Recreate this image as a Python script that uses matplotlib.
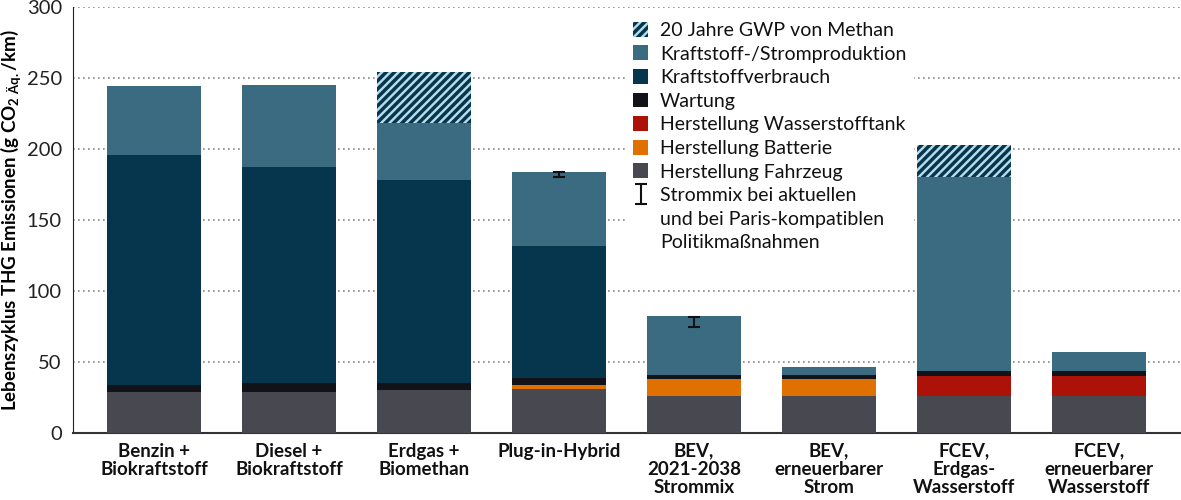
import matplotlib.pyplot as plt
from matplotlib.patches import Patch
from matplotlib.lines import Line2D
import numpy as np

plt.rcParams['font.family'] = ['Lato', 'DejaVu Sans']
plt.rcParams['hatch.linewidth'] = 2.5

# Kategorien
kategorien = ['Benzin +\nBiokraftstoff', 'Diesel +\nBiokraftstoff', 'Erdgas +\nBiomethan',
              'Plug-in-Hybrid', 'BEV,\n2021-2038\nStrommix', 'BEV,\nerneuerbarer\nStrom',
              'FCEV,\nErdgas-\nWasserstoff', 'FCEV,\nerneuerbarer\nWasserstoff']

# Werte (g CO2 Äq./km), von unten nach oben
fahrzeug = [29, 29, 30, 31, 26, 26, 26, 26]
batterie = [0, 0, 0, 3, 12, 12, 0, 0]
tank = [0, 0, 0, 0, 0, 0, 14, 14]
wartung = [4.5, 6, 5, 5, 3, 3, 4, 4]
verbrauch = [162, 152, 143, 93, 0, 0, 0, 0]
produktion = [49, 58, 40, 52, 41.5, 5.5, 136, 13]
methan = [0, 0, 36, 0, 0, 0, 23, 0]

# Fehlerbalken (Strommix)
err_idx = [3, 4]
err_mitte = [182, 78]
err_halb = [2, 3.5]

c_fahrzeug = '#474850'
c_batterie = '#e07000'
c_tank = '#ad1208'
c_wartung = '#111318'
c_verbrauch = '#05364d'
c_produktion = '#3a6b80'
c_methan = '#b8dcea'

fig = plt.figure(figsize=(11.81, 5), dpi=100)
ax = fig.add_axes([73/1181, 1-433/500, 1-73/1181, 426/500])

x = np.arange(len(kategorien))
w = 0.7
unten = np.zeros(len(x))
for werte, farbe in [(fahrzeug, c_fahrzeug), (batterie, c_batterie), (tank, c_tank),
                     (wartung, c_wartung), (verbrauch, c_verbrauch), (produktion, c_produktion)]:
    ax.bar(x, werte, w, bottom=unten, color=farbe, linewidth=0, zorder=3)
    unten += np.array(werte)
ax.bar(x, methan, w, bottom=unten, color=c_methan, edgecolor=c_verbrauch, hatch='////',
       linewidth=0, zorder=3)

eb = ax.errorbar(x[err_idx], err_mitte, yerr=err_halb, fmt='none', ecolor='#111111',
                 elinewidth=1.5, capsize=4, capthick=1.5, zorder=4)

ax.set_xlim(-0.6, 7.607)
ax.set_ylim(0, 300)
ax.set_yticks(range(0, 301, 50))
ax.tick_params(axis='y', length=0, labelsize=14.5, pad=8, colors='#222222')
ax.tick_params(axis='x', length=0, pad=7)
ax.set_xticks(x)
ax.set_xticklabels(kategorien, fontsize=13.5, fontweight='bold', color='#111111', linespacing=1.08)
for yv in range(50, 301, 50):
    ax.axhline(yv, color='#888888', linestyle=(0, (1, 2)), linewidth=1.2, zorder=1)
for s in ['top', 'right']:
    ax.spines[s].set_visible(False)
ax.spines['left'].set_color('#222222')
ax.spines['bottom'].set_color('#333333')
ax.spines['bottom'].set_linewidth(1.5)
ax.set_ylabel('Lebenszyklus THG Emissionen (g CO$_{\\mathregular{2\\ Äq.}}$/km)',
              fontsize=13.5, fontweight='bold')
ax.yaxis.set_label_coords(-0.044, 0.5)

handles = [
    Patch(facecolor=c_methan, edgecolor=c_verbrauch, hatch='////', linewidth=0),
    Patch(facecolor=c_produktion),
    Patch(facecolor=c_verbrauch),
    Patch(facecolor=c_wartung),
    Patch(facecolor=c_tank),
    Patch(facecolor=c_batterie),
    Patch(facecolor=c_fahrzeug),
    eb,
    Line2D([], [], color='none'),
    Line2D([], [], color='none'),
]
labels = ['20 Jahre GWP von Methan', 'Kraftstoff-/Stromproduktion', 'Kraftstoffverbrauch',
          'Wartung', 'Herstellung Wasserstofftank', 'Herstellung Batterie',
          'Herstellung Fahrzeug', 'Strommix bei aktuellen', 'und bei Paris-kompatiblen',
          'Politikmaßnahmen']
leg = ax.legend(handles, labels, loc='upper left', bbox_to_anchor=(625/1181, 1-14/500),
                bbox_transform=fig.transFigure, frameon=True, fontsize=14,
                handlelength=0.8, handleheight=0.8, handletextpad=0.6, labelspacing=0.33,
                borderaxespad=0, facecolor='white', edgecolor='none', framealpha=1)
leg.set_zorder(5)
for t in leg.get_texts():
    t.set_color('#111111')

fig.savefig('out.png', dpi=100)
